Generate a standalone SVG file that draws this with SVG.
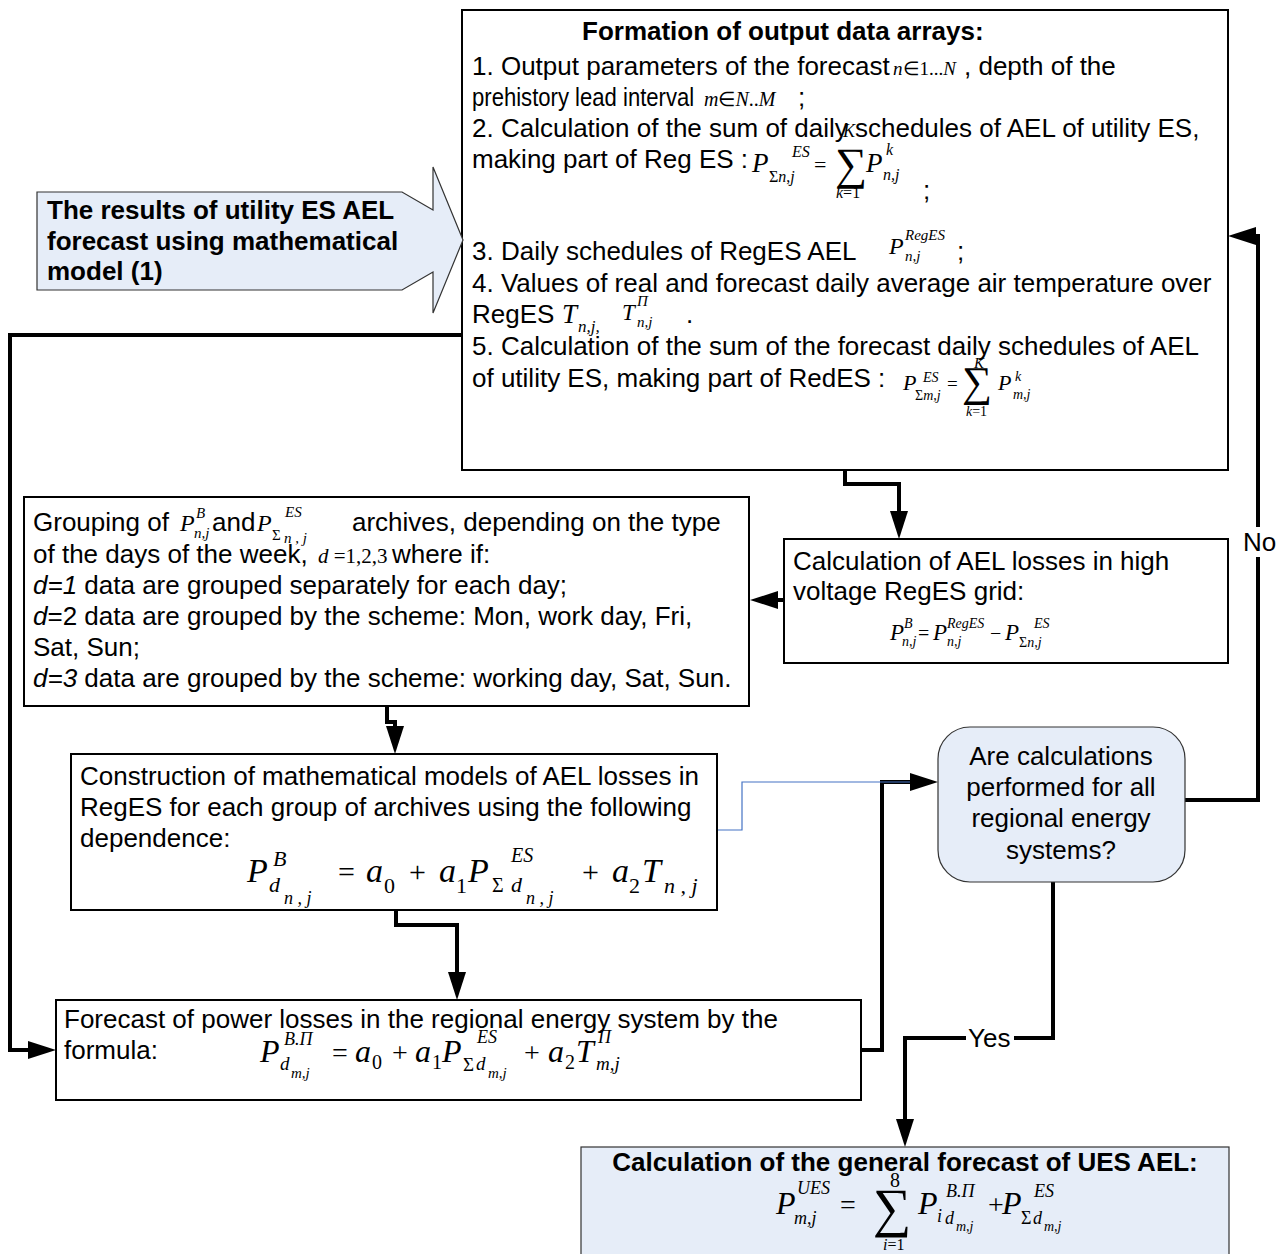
<svg xmlns="http://www.w3.org/2000/svg" width="1282" height="1254" viewBox="0 0 1282 1254">
<defs>
<style>
.t{font-family:"Liberation Sans",Arial,sans-serif;font-size:26px;fill:#000}
.b{font-weight:bold}
.m{font-family:"Liberation Serif","Times New Roman",serif;fill:#000}
.i{font-style:italic}
.box{fill:#fff;stroke:#000;stroke-width:2}
.lb{fill:#e6edf8;stroke:#333;stroke-width:1.2}
.c{fill:none;stroke:#000;stroke-width:4}
.cb{fill:none;stroke:#4472c4;stroke-width:1.2}
</style>
<marker id="ah" markerUnits="userSpaceOnUse" markerWidth="30" markerHeight="20" refX="22" refY="9" orient="auto"><path d="M0,0 L28,9 L0,18 z" fill="#000"/></marker>
</defs>
<rect width="1282" height="1254" fill="#fff"/>

<g id="connectors">
<path class="c" d="M845,470 V484 H899 V533" marker-end="url(#ah)"/>
<path class="c" d="M784,600 H756" marker-end="url(#ah)"/>
<path class="c" d="M387,706 V722 H395 V748" marker-end="url(#ah)"/>
<path class="c" d="M396,910 V925 H457 V994" marker-end="url(#ah)"/>
<path class="c" d="M462,335 H10 V1050 H50" marker-end="url(#ah)"/>
<path class="c" d="M861,1050 H882 V782 H932" marker-end="url(#ah)"/>
<path class="cb" d="M717,830 H742 V782 H910"/>
<path class="c" d="M1185,800 H1258 V236 H1234" marker-end="url(#ah)"/>
<path class="c" d="M1053,882 V1038 H905 V1141" marker-end="url(#ah)"/>
<rect x="1241" y="527" width="36" height="30" fill="#fff"/>
<text class="t" x="1243" y="551">No</text>
<rect x="966" y="1025" width="48" height="28" fill="#fff"/>
<text class="t" x="968" y="1047">Yes</text>
</g>

<g id="top-box">
<rect class="box" x="462" y="10" width="766" height="460"/>
<text class="t b" x="582" y="40">Formation of output data arrays:</text>
<text class="t" x="472" y="75">1. Output parameters of the forecast</text>
<text class="m" x="893" y="75" font-size="19"><tspan class="i">n</tspan>∈1...<tspan class="i">N</tspan></text>
<text class="t" x="964" y="75">, depth of the</text>
<text class="t" transform="translate(472,106) scale(0.85,1)" x="0" y="0">prehistory lead interval</text>
<text class="m" x="704" y="106" font-size="20"><tspan class="i">m</tspan>∈<tspan class="i">N</tspan>..<tspan class="i">M</tspan></text>
<text class="t" x="798" y="106">;</text>
<text class="t" x="472" y="137">2. Calculation of the sum of daily schedules of AEL of utility ES,</text>
<text class="t" x="472" y="168">making part of Reg ES  :</text>
<text class="m i" x="752" y="172" font-size="27">P</text>
<text class="m" x="769" y="182" font-size="16">Σ<tspan class="i">n</tspan>,<tspan class="i">j</tspan></text>
<text class="m i" x="792" y="157" font-size="16">ES</text>
<text class="m" x="814" y="172" font-size="22">=</text>
<text class="m" x="835" y="179" font-size="45">∑</text>
<text class="m i" x="843" y="137" font-size="18">K</text>
<text class="m" x="836" y="198" font-size="16"><tspan class="i">k</tspan>=1</text>
<text class="m i" x="866" y="172" font-size="27">P</text>
<text class="m i" x="886" y="155" font-size="16">k</text>
<text class="m i" x="883" y="180" font-size="16">n,j</text>
<text class="t" x="923" y="199">;</text>
<text class="t" x="472" y="260">3. Daily schedules of RegES AEL</text>
<text class="m i" x="889" y="254" font-size="24">P</text>
<text class="m i" x="905" y="240" font-size="15">RegES</text>
<text class="m i" x="905" y="261" font-size="15">n,j</text>
<text class="t" x="957" y="260">;</text>
<text class="t" x="472" y="292">4. Values of real and forecast daily average air temperature over</text>
<text class="t" x="472" y="323">RegES</text>
<text class="m i" x="562" y="323" font-size="27">T</text>
<text class="m i" x="578" y="332" font-size="17">n,j,</text>
<text class="m i" x="622" y="320" font-size="23">T</text>
<text class="m i" x="637" y="306" font-size="15">Π</text>
<text class="m i" x="637" y="327" font-size="15">n,j</text>
<text class="t" x="686" y="323">.</text>
<text class="t" x="472" y="355">5. Calculation of the sum of the forecast daily schedules of AEL</text>
<text class="t" x="472" y="387">of utility ES, making part of RedES  :</text>
<text class="m i" x="903" y="390" font-size="22">P</text>
<text class="m" x="915" y="400" font-size="14">Σ<tspan class="i">m</tspan>,<tspan class="i">j</tspan></text>
<text class="m i" x="923" y="382" font-size="14">ES</text>
<text class="m" x="947" y="390" font-size="19">=</text>
<text class="m" x="962" y="396" font-size="42">∑</text>
<text class="m i" x="974" y="368" font-size="15">K</text>
<text class="m" x="966" y="416" font-size="14"><tspan class="i">k</tspan>=1</text>
<text class="m i" x="998" y="390" font-size="22">P</text>
<text class="m i" x="1015" y="381" font-size="14">k</text>
<text class="m i" x="1013" y="399" font-size="14">m,j</text>
</g>

<g id="input-arrow">
<polygon class="lb" points="37,192 402,192 433,210 433,167 463,240 433,313 433,272 402,290 37,290"/>
<text class="t b" x="47" y="219">The results of utility ES AEL</text>
<text class="t b" x="47" y="250">forecast using mathematical</text>
<text class="t b" x="47" y="280">model (1)</text>
</g>

<g id="losses-box">
<rect class="box" x="784" y="539" width="444" height="124"/>
<text class="t" x="793" y="570">Calculation of AEL losses in high</text>
<text class="t" x="793" y="600">voltage RegES grid:</text>
<text class="m i" x="890" y="640" font-size="23">P</text>
<text class="m i" x="904" y="628" font-size="14">B</text>
<text class="m i" x="902" y="646" font-size="14">n,j</text>
<text class="m" x="918" y="640" font-size="20">=</text>
<text class="m i" x="933" y="640" font-size="23">P</text>
<text class="m i" x="947" y="628" font-size="14">RegES</text>
<text class="m i" x="947" y="646" font-size="14">n,j</text>
<text class="m" x="990" y="640" font-size="20">−</text>
<text class="m i" x="1005" y="640" font-size="23">P</text>
<text class="m i" x="1034" y="628" font-size="14">ES</text>
<text class="m" x="1019" y="647" font-size="14">Σ<tspan class="i">n,j</tspan></text>
</g>

<g id="grouping-box">
<rect class="box" x="24" y="497" width="725" height="209"/>
<text class="t" x="33" y="531">Grouping of</text>
<text class="m i" x="180" y="531" font-size="24">P</text>
<text class="m i" x="196" y="518" font-size="15">B</text>
<text class="m i" x="194" y="538" font-size="15">n,j</text>
<text class="t" x="212" y="531">and</text>
<text class="m i" x="257" y="531" font-size="24">P</text>
<text class="m" x="272" y="540" font-size="15">Σ</text>
<text class="m i" x="285" y="517" font-size="15">ES</text>
<text class="m i" x="284" y="543" font-size="15">n , j</text>
<text class="t" x="352" y="531">archives, depending on the type</text>
<text class="t" x="33" y="563">of the days of the week,</text>
<text class="m" x="318" y="563" font-size="21"><tspan class="i">d</tspan> =1,2,3</text>
<text class="t" x="392" y="563">where if:</text>
<text class="t" x="33" y="594"><tspan class="i">d=1</tspan> data are grouped separately for each day;</text>
<text class="t" x="33" y="625"><tspan class="i">d</tspan>=2 data are grouped by the scheme: Mon, work day, Fri,</text>
<text class="t" x="33" y="656">Sat, Sun;</text>
<text class="t" x="33" y="687"><tspan class="i">d=3</tspan> data are grouped by the scheme: working day, Sat, Sun.</text>
</g>

<g id="construction-box">
<rect class="box" x="71" y="754" width="646" height="156"/>
<text class="t" x="80" y="785">Construction of mathematical models of AEL losses in</text>
<text class="t" x="80" y="816">RegES for each group of archives using the following</text>
<text class="t" x="80" y="847">dependence:</text>
<text class="m i" x="247" y="882" font-size="34">P</text>
<text class="m i" x="273" y="866" font-size="22">B</text>
<text class="m i" x="269" y="892" font-size="22">d</text>
<text class="m i" x="284" y="904" font-size="18">n , j</text>
<text class="m" x="338" y="882" font-size="30">=</text>
<text class="m i" x="366" y="882" font-size="34">a</text>
<text class="m" x="384" y="893" font-size="22">0</text>
<text class="m" x="409" y="882" font-size="30">+</text>
<text class="m i" x="439" y="882" font-size="34">a</text>
<text class="m" x="456" y="893" font-size="22">1</text>
<text class="m i" x="468" y="882" font-size="34">P</text>
<text class="m" x="492" y="892" font-size="20">Σ</text>
<text class="m i" x="511" y="862" font-size="20">ES</text>
<text class="m i" x="511" y="892" font-size="22">d</text>
<text class="m i" x="526" y="904" font-size="18">n , j</text>
<text class="m" x="582" y="882" font-size="30">+</text>
<text class="m i" x="612" y="882" font-size="34">a</text>
<text class="m" x="629" y="893" font-size="22">2</text>
<text class="m i" x="642" y="882" font-size="34">T</text>
<text class="m i" x="664" y="893" font-size="22">n , j</text>
</g>

<g id="forecast-box">
<rect class="box" x="56" y="1000" width="805" height="100"/>
<text class="t" x="64" y="1028">Forecast of power losses in the regional energy system by the</text>
<text class="t" x="64" y="1059">formula:</text>
<text class="m i" x="260" y="1062" font-size="32">P</text>
<text class="m i" x="284" y="1045" font-size="18">B.Π</text>
<text class="m i" x="280" y="1070" font-size="19">d</text>
<text class="m i" x="291" y="1078" font-size="15">m,j</text>
<text class="m" x="332" y="1062" font-size="28">=</text>
<text class="m i" x="355" y="1062" font-size="32">a</text>
<text class="m" x="372" y="1069" font-size="20">0</text>
<text class="m" x="392" y="1062" font-size="28">+</text>
<text class="m i" x="415" y="1062" font-size="32">a</text>
<text class="m" x="432" y="1069" font-size="20">1</text>
<text class="m i" x="442" y="1062" font-size="32">P</text>
<text class="m" x="463" y="1071" font-size="19">Σ</text>
<text class="m i" x="477" y="1043" font-size="18">ES</text>
<text class="m i" x="476" y="1070" font-size="19">d</text>
<text class="m i" x="488" y="1078" font-size="15">m,j</text>
<text class="m" x="524" y="1062" font-size="28">+</text>
<text class="m i" x="548" y="1062" font-size="32">a</text>
<text class="m" x="565" y="1069" font-size="20">2</text>
<text class="m i" x="576" y="1062" font-size="32">T</text>
<text class="m i" x="598" y="1043" font-size="18">Π</text>
<text class="m i" x="596" y="1070" font-size="19">m,j</text>
</g>

<g id="decision">
<rect class="lb" x="938" y="727" width="247" height="155" rx="32" ry="32" stroke-width="1.5"/>
<text class="t" x="1061" y="765" text-anchor="middle">Are calculations</text>
<text class="t" x="1061" y="796" text-anchor="middle">performed for all</text>
<text class="t" x="1061" y="827" text-anchor="middle">regional energy</text>
<text class="t" x="1061" y="859" text-anchor="middle">systems?</text>
</g>

<g id="total-box">
<rect class="lb" x="581" y="1147" width="648" height="112" stroke="#000" stroke-width="2"/>
<text class="t b" x="905" y="1171" text-anchor="middle" font-size="25">Calculation of the general forecast of UES AEL:</text>
<text class="m i" x="776" y="1214" font-size="32">P</text>
<text class="m i" x="797" y="1194" font-size="18">UES</text>
<text class="m i" x="794" y="1224" font-size="18">m,j</text>
<text class="m" x="840" y="1214" font-size="28">=</text>
<text class="m" x="873" y="1226" font-size="54">∑</text>
<text class="m" x="890" y="1187" font-size="20">8</text>
<text class="m" x="883" y="1250" font-size="16"><tspan class="i">i</tspan>=1</text>
<text class="m i" x="918" y="1214" font-size="32">P</text>
<text class="m i" x="937" y="1222" font-size="18">i</text>
<text class="m i" x="946" y="1197" font-size="18">B.Π</text>
<text class="m i" x="945" y="1224" font-size="18">d</text>
<text class="m i" x="956" y="1231" font-size="14">m,j</text>
<text class="m" x="988" y="1214" font-size="28">+</text>
<text class="m i" x="1002" y="1214" font-size="32">P</text>
<text class="m" x="1021" y="1224" font-size="18">Σ</text>
<text class="m i" x="1034" y="1197" font-size="18">ES</text>
<text class="m i" x="1033" y="1224" font-size="18">d</text>
<text class="m i" x="1044" y="1231" font-size="14">m,j</text>
</g>
</svg>
